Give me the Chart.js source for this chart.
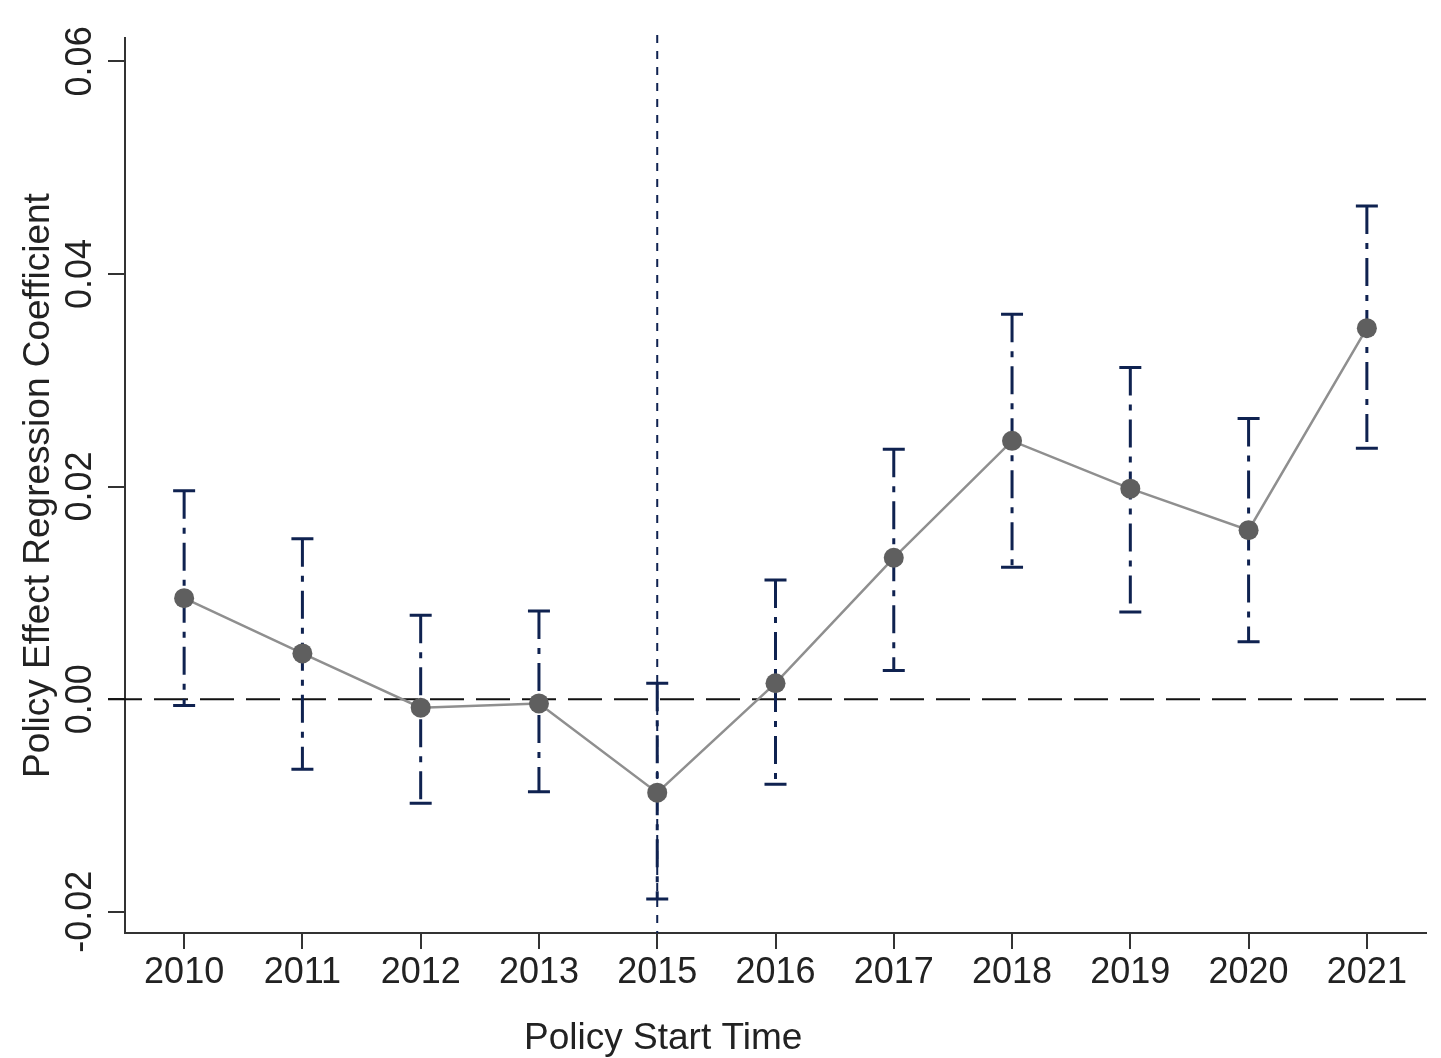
<!DOCTYPE html>
<html lang="en">
<head>
    <meta charset="UTF-8">
    <script src="https://cdn.jsdelivr.net/npm/chart.js"></script>
    <title>Policy Start Time</title>
    <style>
        body { margin: 0; background: #fff; }
        #wrap { width: 1441px; height: 1058px; }
    </style>
</head>
<body>
    <div id="wrap"><canvas id="grafica"></canvas></div>
    <script>
        // datos
        const years = ['2010', '2011', '2012', '2013', '2015', '2016', '2017', '2018', '2019', '2020', '2021'];
        const coef  = [0.0095, 0.0043, -0.0008, -0.0004, -0.0088, 0.0015, 0.0133, 0.0243, 0.0198, 0.0159, 0.0349];
        const upper = [0.0196, 0.0151, 0.0079, 0.0083, 0.0015, 0.0112, 0.0235, 0.0362, 0.0312, 0.0264, 0.0464];
        const lower = [-0.0006, -0.0066, -0.0098, -0.0087, -0.0188, -0.0080, 0.0027, 0.0124, 0.0082, 0.0054, 0.0236];
        const policyYear = '2015';
        const xTitle = 'Policy Start Time';

        const navy = '#0f2250';

        const errorBars = {
            id: 'errorBars',
            beforeDatasetsDraw(chart) {
                const ctx = chart.ctx;
                const xs = chart.scales.x, ys = chart.scales.y;
                const area = chart.chartArea;
                ctx.save();
                // linea horizontal en cero
                ctx.strokeStyle = '#111';
                ctx.lineWidth = 2;
                ctx.setLineDash([34, 12]);
                const y0 = ys.getPixelForValue(0);
                ctx.beginPath();
                ctx.moveTo(area.left - 17, y0);
                ctx.lineTo(area.right, y0);
                ctx.stroke();
                // linea vertical del inicio de la politica
                ctx.strokeStyle = navy;
                ctx.setLineDash([8, 8]);
                const xp = xs.getPixelForValue(years.indexOf(policyYear));
                ctx.beginPath();
                ctx.moveTo(xp, area.top - 3);
                ctx.lineTo(xp, area.bottom);
                ctx.stroke();
                // intervalos
                ctx.lineWidth = 3;
                for (let i = 0; i < years.length; i++) {
                    const x = xs.getPixelForValue(i);
                    const yt = ys.getPixelForValue(upper[i]);
                    const yb = ys.getPixelForValue(lower[i]);
                    ctx.setLineDash([28, 9, 6, 9]);
                    ctx.beginPath();
                    ctx.moveTo(x, yt);
                    ctx.lineTo(x, yb);
                    ctx.stroke();
                    ctx.setLineDash([]);
                    ctx.beginPath();
                    ctx.moveTo(x - 11, yt);
                    ctx.lineTo(x + 11, yt);
                    ctx.moveTo(x - 11, yb);
                    ctx.lineTo(x + 11, yb);
                    ctx.stroke();
                }
                ctx.restore();
            },
            afterDraw(chart) {
                // titulo del eje x, algo desplazado a la izquierda como en el original
                const ctx = chart.ctx;
                const xs = chart.scales.x;
                ctx.save();
                ctx.fillStyle = '#222';
                ctx.font = '37px "Liberation Sans"';
                ctx.textAlign = 'center';
                ctx.textBaseline = 'alphabetic';
                ctx.fillText(xTitle, xs.getPixelForValue(years.indexOf(policyYear)) + 6, xs.bottom - 9);
                ctx.restore();
            }
        };

        const ctx = document.getElementById('grafica').getContext('2d');
        new Chart(ctx, {
            type: 'line',
            data: {
                labels: years,
                datasets: [{
                    data: coef,
                    borderColor: '#8f8f8f',
                    borderWidth: 2.5,
                    pointRadius: 10,
                    pointBackgroundColor: '#5f5f5f',
                    pointBorderColor: '#5f5f5f',
                    pointBorderWidth: 0,
                    tension: 0
                }]
            },
            options: {
                responsive: true,
                maintainAspectRatio: false,
                animation: false,
                layout: { padding: { left: 0, right: 15, top: 38, bottom: 0 } },
                plugins: { legend: { display: false }, tooltip: { enabled: false } },
                scales: {
                    x: {
                        offset: true,
                        afterFit: s => { s.height = 125; },
                        grid: { drawOnChartArea: false, tickLength: 16, color: '#333', lineWidth: 2 },
                        border: { color: '#333', width: 2 },
                        ticks: { color: '#222', font: { family: 'Liberation Sans', size: 36 }, padding: 2, maxRotation: 0 },
                        title: { display: false }
                    },
                    y: {
                        min: -0.022,
                        max: 0.0622,
                        afterFit: s => { s.width = 125; },
                        grid: { drawOnChartArea: false, tickLength: 17, color: '#333', lineWidth: 2 },
                        border: { color: '#333', width: 2 },
                        ticks: {
                            stepSize: 0.02,
                            includeBounds: false,
                            minRotation: 90,
                            maxRotation: 90,
                            crossAlign: 'center',
                            padding: -14,
                            color: '#222',
                            font: { family: 'Liberation Sans', size: 36 },
                            callback: v => Math.abs(v) < 1e-9 ? '0.00' : v.toFixed(2)
                        },
                        title: {
                            display: true, text: 'Policy Effect Regression Coefficient', color: '#222',
                            font: { family: 'Liberation Sans', size: 37 }, padding: { top: 17, bottom: 0 }
                        }
                    }
                }
            },
            plugins: [errorBars]
        });
    </script>
</body>
</html>
